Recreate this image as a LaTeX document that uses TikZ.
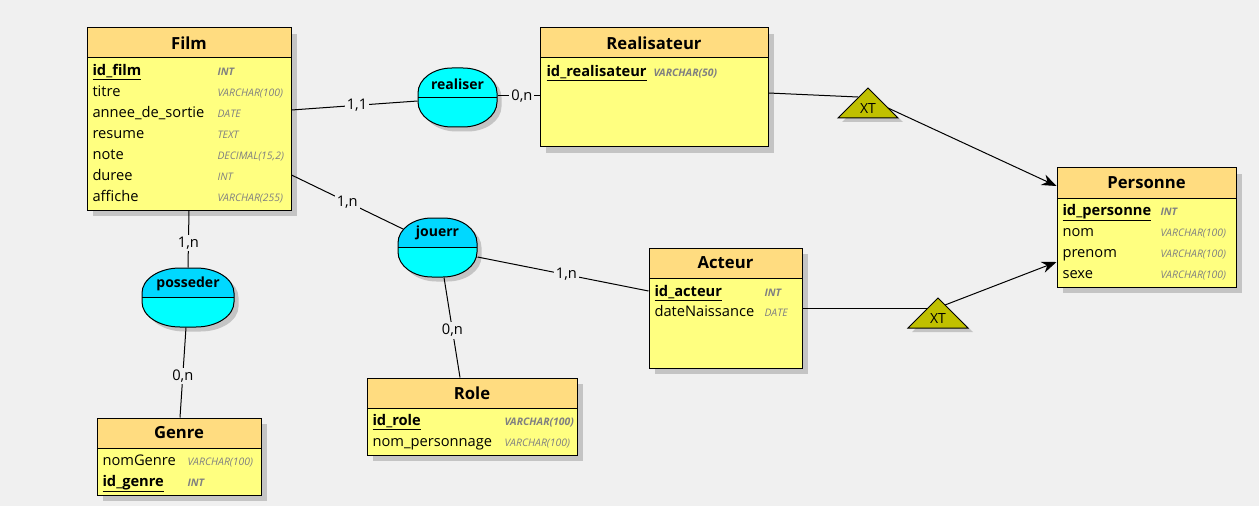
\documentclass[tikz,border=0pt]{standalone}
\usepackage{fontspec}
\setmainfont{Open Sans}
\usetikzlibrary{shadows,calc,arrows.meta}
\def\px{0.75pt}
\definecolor{cBg}{HTML}{F0F0F0}
\definecolor{cBody}{HTML}{FFFF80}
\definecolor{cHead}{HTML}{FFDC80}
\definecolor{cShadow}{HTML}{C4C4C4}
\definecolor{cCyan}{HTML}{00FFFF}
\definecolor{cCyanTop}{HTML}{00D8FF}
\definecolor{cType}{HTML}{808080}
\definecolor{cXT}{HTML}{C0C000}
\newcommand\mcdentity[6]{%
  \node[ent, minimum width={#4*\px}, minimum height={#5*\px}] (#1) at (#2,#3) {};
  \node[enthd, minimum width={#4*\px}, anchor=north] (#1-h) at (#1.north) {#6};}
\newcommand\mcdattr[6]{%
  \node[attr] (#1) at (#2,#3) {#4};
  \node[atype] (#1-t) at (#5,#3) {#6};}
\newcommand\mcdkey[6]{%
  \node[attr] (#1) at (#2,#3) {\underline{\textbf{#4}}};
  \node[atypek] (#1-t) at (#5,#3) {#6};}
% superellipse-like outline: half width, half height, corner rx, corner ry
\newcommand\rshp[4]{({-#1+#3},{-#2}) -- ({#1-#3},{-#2})
  .. controls ({#1-#3+0.5523*#3},{-#2}) and ({#1},{-#2+#4-0.5523*#4}) .. ({#1},{-#2+#4})
  -- ({#1},{#2-#4})
  .. controls ({#1},{#2-#4+0.5523*#4}) and ({#1-#3+0.5523*#3},{#2}) .. ({#1-#3},{#2})
  -- ({-#1+#3},{#2})
  .. controls ({-#1+#3-0.5523*#3},{#2}) and ({-#1},{#2-#4+0.5523*#4}) .. ({-#1},{#2-#4})
  -- ({-#1},{-#2+#4})
  .. controls ({-#1},{-#2+#4-0.5523*#4}) and ({-#1+#3-0.5523*#3},{-#2}) .. ({-#1+#3},{-#2}) -- cycle}
\newcommand\relshadow[5]{%
  \begin{scope}[shift={(#1.center)}]
    \fill[cShadow] [shift={(4.5,4.5)}] \rshp{#2}{#3}{#4}{#5};
  \end{scope}}
\newcommand\relbody[6]{%
  \begin{scope}[shift={(#1.center)}]
    \fill[cCyan] \rshp{#2}{#3}{#4}{#5};
    \begin{scope}
      \clip \rshp{#2}{#3}{#4}{#5};
      \fill[#6] ({-#2-2},{-#3-2}) rectangle ({#2+2},0);
    \end{scope}
    \draw ({-#2},0) -- ({#2},0);
    \draw \rshp{#2}{#3}{#4}{#5};
  \end{scope}}
\begin{document}
\begin{tikzpicture}[x=0.75pt, y=-0.75pt,
  line width=0.75pt,
  ent/.style={draw, fill=cBody, inner sep=0pt,
    drop shadow={shadow xshift=4.5pt, shadow yshift=-4.5pt, fill=cShadow, opacity=1}},
  enthd/.style={draw, fill=cHead, inner sep=0pt, minimum height={30*\px},
    font=\fontsize{12.5}{14}\selectfont\bfseries},
  attr/.style={anchor=mid west, inner sep=0pt, yshift=-1.2pt, font=\fontsize{11}{13}\selectfont},
  atype/.style={anchor=mid west, inner sep=0pt, yshift=-1.2pt, text=cType, font=\fontsize{7.8}{9}\selectfont\itshape},
  atypek/.style={atype, font=\fontsize{7.8}{9}\selectfont\itshape\bfseries},
  rel/.style={inner sep=0pt, minimum height={59*\px}},
  reltxt/.style={inner sep=0pt, font=\fontsize{10.5}{12}\selectfont\bfseries},
  card/.style={fill=cBg, inner sep=1.5pt, font=\fontsize{11}{13}\selectfont},
  xt/.style={fill=cXT, draw, line width=0.75pt},
  xttxt/.style={inner sep=0pt, font=\fontsize{10.5}{12}\selectfont}
]
\useasboundingbox (0,0) rectangle (1259,506);
\fill[cBg] (0,0) rectangle (1259,506);

% ---------- entities ----------
\mcdentity{film}{189}{119}{204}{182}{Film}
\mcdkey{film-a1}{92}{70}{id\_film}{217}{INT}
\mcdattr{film-a2}{92}{91}{titre}{217}{VARCHAR(100)}
\mcdattr{film-a3}{92}{112}{annee\_de\_sortie}{217}{DATE}
\mcdattr{film-a4}{92}{133}{resume}{217}{TEXT}
\mcdattr{film-a5}{92}{154}{note}{217}{DECIMAL(15,2)}
\mcdattr{film-a6}{92}{175}{duree}{217}{INT}
\mcdattr{film-a7}{92}{196}{affiche}{217}{VARCHAR(255)}

\mcdentity{realisateur}{654}{87.5}{228}{119}{Realisateur}
\mcdkey{real-a1}{546}{71}{id\_realisateur}{653}{VARCHAR(50)}

\mcdentity{personne}{1146.5}{227.5}{179}{119}{Personne}
\mcdkey{pers-a1}{1062}{210}{id\_personne}{1160}{INT}
\mcdattr{pers-a2}{1062}{231}{nom}{1160}{VARCHAR(100)}
\mcdattr{pers-a3}{1062}{252}{prenom}{1160}{VARCHAR(100)}
\mcdattr{pers-a4}{1062}{273}{sexe}{1160}{VARCHAR(100)}

\mcdentity{acteur}{725.5}{308}{153}{120}{Acteur}
\mcdkey{act-a1}{654}{291}{id\_acteur}{764}{INT}
\mcdattr{act-a2}{654}{311}{dateNaissance}{764}{DATE}

\mcdentity{role}{472}{416.5}{210}{77}{Role}
\mcdkey{role-a1}{372}{420}{id\_role}{504}{VARCHAR(100)}
\mcdattr{role-a2}{372}{441}{nom\_personnage}{504}{VARCHAR(100)}

\mcdentity{genre}{179}{456.5}{164}{77}{Genre}
\mcdattr{genre-a1}{102}{460}{nomGenre}{187}{VARCHAR(100)}
\mcdkey{genre-a2}{102}{481}{id\_genre}{187}{INT}

% ---------- relations (named frames) ----------
\node[rel, minimum width={79*\px}] (realiser) at (457.5,97.5) {};
\node[rel, minimum width={79*\px}] (jouerr) at (437.5,247.5) {};
\node[rel, minimum width={92*\px}] (posseder) at (188,297.5) {};
\relshadow{realiser}{39.5}{29.5}{34}{25}
\relshadow{jouerr}{39.5}{29.5}{34}{25}
\relshadow{posseder}{46}{29.5}{38}{25}

% ---------- XT triangles ----------
\coordinate (xt1) at (868,103);
\fill[cShadow] ($(xt1)+(4,-11)$) -- ($(xt1)+(35,19)$) -- ($(xt1)+(-26,19)$) -- cycle;
\filldraw[xt] ($(xt1)+(0,-15)$) -- ($(xt1)+(30,15)$) -- ($(xt1)+(-30,15)$) -- cycle;
\node[xttxt] (xt1-t) at ($(xt1)+(0,6)$) {XT};
\coordinate (xt2) at (938,313);
\fill[cShadow] ($(xt2)+(4,-11)$) -- ($(xt2)+(35,19)$) -- ($(xt2)+(-26,19)$) -- cycle;
\filldraw[xt] ($(xt2)+(0,-15)$) -- ($(xt2)+(30,15)$) -- ($(xt2)+(-30,15)$) -- cycle;
\node[xttxt] (xt2-t) at ($(xt2)+(0,6)$) {XT};

% ---------- connectors ----------
\draw ($(film.east)+(0,-9)$) -- node[card, pos=0.52] (c1) {1,1} ($(realiser.west)+(0,3.5)$);
\draw ($(realiser.east)+(0,-1.5)$) -- node[card, pos=0.58] (c2) {0,n} ($(realisateur.west)+(0,8.5)$);
\draw ($(film.east)+(0,56)$) -- node[card, pos=0.5] (c3) {1,n} ($(jouerr.center)+(-34.5,-18.5)$);
\draw ($(jouerr.east)+(0,9.5)$) -- node[card, pos=0.52] (c4) {1,n} ($(acteur.west)+(0,-17)$);
\draw ($(jouerr.south)+(6.5,0)$) -- node[card, pos=0.53] (c5) {0,n} ($(role.north)+(-12,0)$);
\draw (film.south) -- node[card, pos=0.57] (c6) {1,n} (posseder.north);
\draw ($(posseder.south)+(-2,0)$) -- node[card, pos=0.54] (c7) {0,n} ($(genre.north)+(1,0)$);
\draw ($(realisateur.east)+(0,5.5)$) -- ($(xt1)+(-10,-6)$);
\draw[-{Stealth[length=11pt, width=8.5pt]}] ($(xt1)+(20,5)$) -- ($(personne.west)+(0,-41.5)$);
\draw (acteur.east) -- ($(xt2)+(-10,-5)$);
\draw[-{Stealth[length=11pt, width=8.5pt]}] ($(xt2)+(7,-8)$) -- ($(personne.west)+(0,34.5)$);

% ---------- relation shapes and names ----------
\relbody{realiser}{39.5}{29.5}{34}{25}{cCyan}
\relbody{jouerr}{39.5}{29.5}{34}{25}{cCyanTop}
\relbody{posseder}{46}{29.5}{38}{25}{cCyanTop}
\node[reltxt] (realiser-t) at ($(realiser)+(0,-13.5)$) {realiser};
\node[reltxt] (jouerr-t) at ($(jouerr)+(0,-14.5)$) {jouerr};
\node[reltxt] (posseder-t) at ($(posseder)+(0,-13.5)$) {posseder};
\end{tikzpicture}
\end{document}
